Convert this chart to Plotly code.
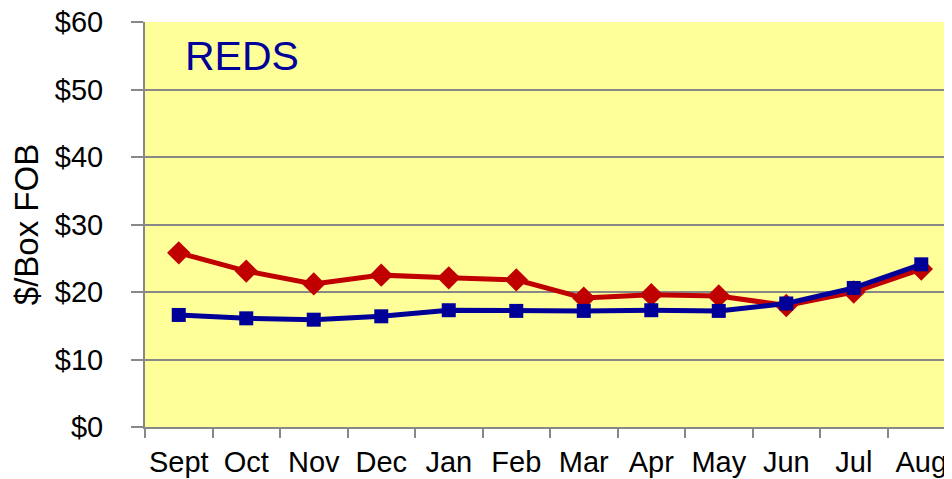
import plotly.graph_objects as go

months = ["Sept", "Oct", "Nov", "Dec", "Jan", "Feb", "Mar", "Apr", "May", "Jun", "Jul", "Aug"]
red_series = [25.8, 23.1, 21.2, 22.5, 22.1, 21.8, 19.1, 19.6, 19.4, 18.0, 20.0, 23.4]
blue_series = [16.6, 16.1, 15.9, 16.4, 17.3, 17.2, 17.2, 17.3, 17.2, 18.3, 20.6, 24.1]
y_ticks = [0, 10, 20, 30, 40, 50, 60]
y_tick_labels = ["$0", "$10", "$20", "$30", "$40", "$50", "$60"]

FONT = "Liberation Sans, Arial, sans-serif"

fig = go.Figure()
fig.add_trace(go.Scatter(
    x=months, y=red_series, mode="lines+markers",
    line=dict(color="#C00000", width=5),
    marker=dict(symbol="diamond", size=18, color="#C00000"),
    showlegend=False,
))
fig.add_trace(go.Scatter(
    x=months, y=blue_series, mode="lines+markers",
    line=dict(color="#000099", width=5),
    marker=dict(symbol="square", size=14, color="#000099"),
    showlegend=False,
))

fig.add_annotation(
    text="REDS", x=0.047, y=0.915, xref="paper", yref="paper",
    xanchor="left", yanchor="middle", showarrow=False,
    font=dict(family=FONT, size=41, color="#000099"),
)

fig.update_layout(
    width=944, height=471,
    margin=dict(l=137, r=0, t=14, b=52, autoexpand=False),
    paper_bgcolor="white",
    plot_bgcolor="#FFFF99",
    font=dict(family=FONT, size=29, color="black"),
)
fig.update_xaxes(
    type="category", range=[-0.5, 11.455],
    tickson="boundaries", ticks="outside", ticklen=9, tickwidth=2, tickcolor="#888888",
    showline=True, linecolor="#888888", linewidth=2,
    showgrid=False, tickfont=dict(size=29), tickangle=0,
    ticklabelstandoff=8,
    automargin=False, ticklabeloverflow="allow",
)
fig.update_yaxes(
    range=[0, 60], tickvals=y_ticks, ticktext=y_tick_labels,
    ticks="outside", ticklen=12, tickwidth=2, tickcolor="#888888",
    ticklabelstandoff=22, ticklabeloverflow="allow",
    showline=True, linecolor="#888888", linewidth=2,
    showgrid=True, gridcolor="#888888", gridwidth=2,
    zeroline=False, automargin=False,
    title=dict(text="$/Box FOB", font=dict(size=33), standoff=12),
    tickfont=dict(size=29),
)

fig.write_html("out.html")
